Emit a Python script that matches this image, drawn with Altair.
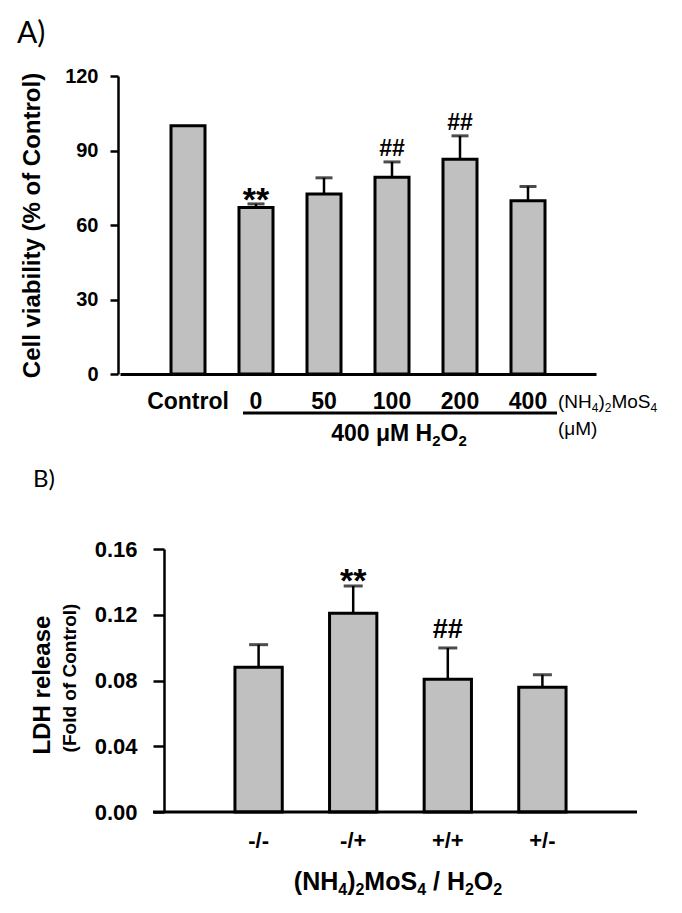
import altair as alt
import pandas as pd

# ---------------- data ----------------
a_groups = ["Control", "0", "50", "100", "200", "400"]
a_mean = [100.0, 67.0, 72.5, 79.2, 86.5, 69.8]
a_sd = [0.0, 1.5, 6.5, 6.2, 9.4, 5.7]
a_sig = ["", "**", "", "##", "##", ""]
a_ticks = [0, 30, 60, 90, 120]

b_groups = ["-/-", "-/+", "+/+", "+/-"]
b_mean = [0.0880, 0.1209, 0.0807, 0.0759]
b_sd = [0.0138, 0.0166, 0.0191, 0.0076]
b_sig = ["", "**", "##", ""]
b_ticks = [0.0, 0.04, 0.08, 0.12, 0.16]

dfa = pd.DataFrame({"group": a_groups, "mean": a_mean, "sd": a_sd, "sig": a_sig})
dfa["top"] = dfa["mean"] + dfa["sd"]
dfb = pd.DataFrame({"group": b_groups, "mean": b_mean, "sd": b_sd, "sig": b_sig})
dfb["top"] = dfb["mean"] + dfb["sd"]

FONT = "Liberation Sans"
PFONT = "Lato"
GRAY = "#c0c0c0"

A_W, A_H = 486, 298
B_W, B_H = 527, 263

# Arial / Liberation Sans advance widths (1/1000 em) for rich-text layout
BOLD_W = {" ": 278, "(": 333, ")": 333, "/": 278, "M": 833, "N": 722, "H": 722,
          "O": 778, "S": 667, "o": 611, "\u03bc": 611}
REG_W = {" ": 278, "(": 333, ")": 333, "/": 278, "M": 833, "N": 722, "H": 722,
         "O": 778, "S": 667, "o": 556, "\u03bc": 576}


def txt(label, x, y, size, weight="bold", font=FONT, align="left", baseline="alphabetic", angle=0):
    return alt.Chart(pd.DataFrame({"label": [label]})).mark_text(
        font=font, fontSize=size, fontWeight=weight, align=align,
        baseline=baseline, angle=angle, color="black"
    ).encode(text="label:N", x=alt.value(x), y=alt.value(y))


def rich(pieces, x, y, size, sub_size, drop, weight="bold", align="left"):
    """pieces: list of (text, is_subscript). Returns list of text layers."""
    table = BOLD_W if weight == "bold" else REG_W
    widths = []
    for t, sub in pieces:
        s = sub_size if sub else size
        widths.append(sum(table.get(c, 556) for c in t) * s / 1000.0)
    total = sum(widths)
    cx = x - total / 2 if align == "center" else x
    layers = []
    for (t, sub), w in zip(pieces, widths):
        s = sub_size if sub else size
        stripped = t.lstrip(" ")
        lead = (len(t) - len(stripped)) * table[" "] * s / 1000.0
        layers.append(txt(stripped, cx + lead, y + (drop if sub else 0), s, weight=weight))
        cx += w
    return layers


# ---------------- panel A ----------------
xa = alt.X("group:N", sort=a_groups,
           scale=alt.Scale(range=[10, A_W], paddingInner=0.5, paddingOuter=0.75),
           axis=alt.Axis(title=None, labelAngle=0, ticks=False, domain=True,
                         domainColor="black", domainWidth=3, labelFont=FONT,
                         labelFontWeight="bold", labelFontSize=23, labelColor="black",
                         labelPadding=16))
ya = alt.Y("mean:Q", scale=alt.Scale(domain=[0, 120], nice=False),
           axis=alt.Axis(values=a_ticks, offset=-8, tickSize=8, tickWidth=2.5,
                         tickColor="black", domainColor="black", domainWidth=2.5,
                         grid=False, labelFont=FONT, labelFontWeight="bold",
                         labelFontSize=20, labelColor="black", labelPadding=12,
                         title="Cell viability (% of Control)", titleX=-74,
                         titleY=A_H / 2, titleFont=FONT, titleFontSize=24,
                         titleFontWeight="bold", titleColor="black"))

baseA = alt.Chart(dfa)
barsA = baseA.mark_bar(fill=GRAY, stroke="black", strokeWidth=3).encode(x=xa, y=ya)
errA = baseA.transform_filter("datum.sd > 0").mark_rule(color="black", strokeWidth=2.5).encode(
    x=alt.X("group:N", sort=a_groups), y="mean:Q", y2="top:Q")
capA = baseA.transform_filter("datum.sd > 0").mark_tick(color="black", size=17, thickness=3).encode(
    x=alt.X("group:N", sort=a_groups), y="top:Q")
starA = baseA.transform_filter("datum.sig == '**'").mark_text(
    font=FONT, fontWeight="bold", fontSize=34, dy=7, baseline="alphabetic", color="black").encode(
    x=alt.X("group:N", sort=a_groups), y="top:Q", text="sig:N")
hashA = baseA.transform_filter("datum.sig == '##'").mark_text(
    font=FONT, fontWeight="bold", fontSize=23, dy=-6, baseline="alphabetic", color="black").encode(
    x=alt.X("group:N", sort=a_groups), y="top:Q", text="sig:N")

underline = alt.Chart(pd.DataFrame({"k": [0]})).mark_rule(color="black", strokeWidth=3).encode(
    x=alt.value(133), x2=alt.value(447), y=alt.value(337))

a_extra = (
    rich([("(NH", False), ("4", True), (")", False), ("2", True), ("MoS", False), ("4", True)],
         448, 332, 19, 12, 4, weight="normal")
    + [txt("(\u03bcM)", 448, 359, 19, weight="normal")]
    + rich([("400 \u03bcM H", False), ("2", True), ("O", False), ("2", True)],
           289, 365, 23, 15, 5, align="center")
    + [txt("A)", -93, -33, 30, weight="normal", font=PFONT)]
)

panelA = alt.layer(
    barsA, errA, capA, starA, hashA, underline, *a_extra
).properties(width=A_W, height=A_H)

# ---------------- panel B ----------------
xb = alt.X("group:N", sort=b_groups,
           scale=alt.Scale(range=[54, B_W], paddingInner=0.5, paddingOuter=0.75),
           axis=alt.Axis(title=None, labelAngle=0, ticks=False, domain=False, labelFont=FONT,
                         labelFontWeight="bold", labelFontSize=22, labelColor="black",
                         labelPadding=18))
yb = alt.Y("mean:Q", scale=alt.Scale(domain=[0, 0.16], nice=False),
           axis=alt.Axis(values=b_ticks, format=".2f", offset=-54, tickSize=11,
                         tickWidth=2.5, tickColor="black", domainColor="black",
                         domainWidth=2.5, grid=False, labelFont=FONT,
                         labelFontWeight="bold", labelFontSize=22, labelColor="black",
                         labelPadding=16, title=None))

baseB = alt.Chart(dfb)
barsB = baseB.mark_bar(fill=GRAY, stroke="black", strokeWidth=3).encode(x=xb, y=yb)
errB = baseB.mark_rule(color="black", strokeWidth=2.5).encode(
    x=alt.X("group:N", sort=b_groups), y="mean:Q", y2="top:Q")
capB = baseB.mark_tick(color="black", size=19, thickness=3).encode(
    x=alt.X("group:N", sort=b_groups), y="top:Q")
starB = baseB.transform_filter("datum.sig == '**'").mark_text(
    font=FONT, fontWeight="bold", fontSize=34, dy=6, baseline="alphabetic", color="black").encode(
    x=alt.X("group:N", sort=b_groups), y="top:Q", text="sig:N")
hashB = baseB.transform_filter("datum.sig == '##'").mark_text(
    font=FONT, fontWeight="bold", fontSize=27, dy=-10, baseline="alphabetic", color="black").encode(
    x=alt.X("group:N", sort=b_groups), y="top:Q", text="sig:N")

xline = alt.Chart(pd.DataFrame({"k": [0]})).mark_rule(color="black", strokeWidth=3).encode(
    x=alt.value(43), x2=alt.value(B_W), y=alt.value(B_H))

b_extra = (
    rich([("(NH", False), ("4", True), (")", False), ("2", True), ("MoS", False), ("4", True),
          (" / H", False), ("2", True), ("O", False), ("2", True)],
         288, B_H + 78, 25, 16, 5, align="center")
    + [txt("LDH release", -67.5, 136, 24, align="center", baseline="middle", angle=270),
       txt("(Fold of Control)", -40, 129, 19, align="center", baseline="middle", angle=270),
       txt("B)", -77, -62, 24, weight="normal", font=PFONT)]
)

panelB = alt.layer(
    barsB, errB, capB, starB, hashB, xline, *b_extra
).properties(width=B_W, height=B_H)

chart = alt.vconcat(panelA, panelB, spacing=19).properties(
    padding={"left": 9, "top": 11, "right": 2, "bottom": 2},
    background="white",
).configure_view(stroke=None)

chart.save("out.html", embed_options={"renderer": "svg", "actions": False})
